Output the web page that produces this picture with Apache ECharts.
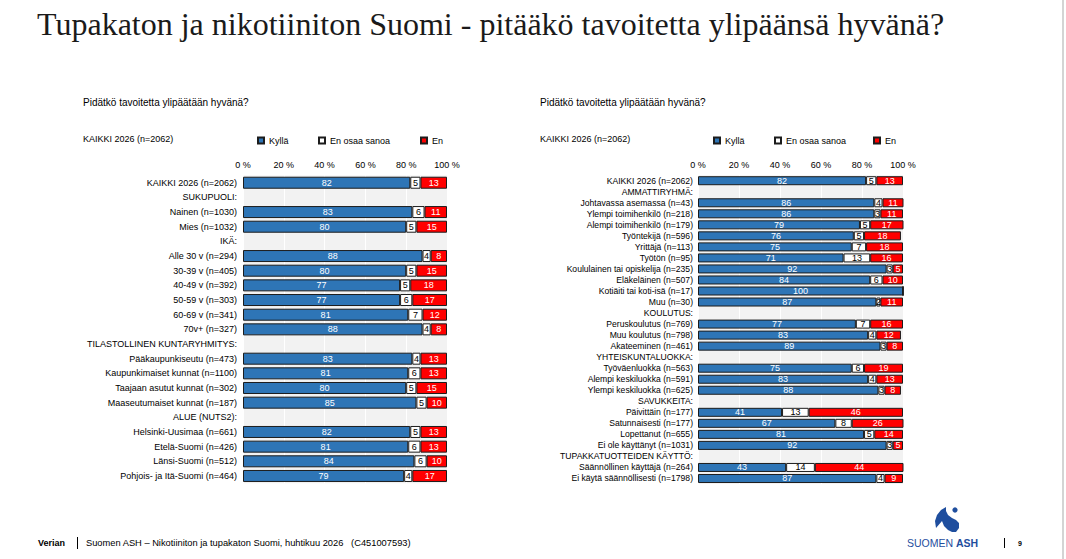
<!DOCTYPE html>
<html>
<head>
<meta charset="utf-8">
<script src="https://cdn.jsdelivr.net/npm/echarts@6/dist/echarts.min.js"></script>
<style>
html,body{margin:0;padding:0;background:#fff;}
#c{width:1066px;height:559px;}
</style>
</head>
<body>
<div id="c"></div>
<script>
// ---------- DATA ----------
const seriesNames = ['Kyllä', 'En osaa sanoa', 'En'];
const tickValues = [0, 20, 40, 60, 80, 100];

const leftCategories = [
  'KAIKKI 2026 (n=2062)', 'SUKUPUOLI:', 'Nainen (n=1030)', 'Mies (n=1032)', 'IKÄ:',
  'Alle 30 v (n=294)', '30-39 v (n=405)', '40-49 v (n=392)', '50-59 v (n=303)',
  '60-69 v (n=341)', '70v+ (n=327)', 'TILASTOLLINEN KUNTARYHMITYS:',
  'Pääkaupunkiseutu (n=473)', 'Kaupunkimaiset kunnat (n=1100)', 'Taajaan asutut kunnat (n=302)',
  'Maaseutumaiset kunnat (n=187)', 'ALUE (NUTS2):', 'Helsinki-Uusimaa (n=661)',
  'Etelä-Suomi (n=426)', 'Länsi-Suomi (n=512)', 'Pohjois- ja Itä-Suomi (n=464)'
];
const leftKylla = [82, null, 83, 80, null, 88, 80, 77, 77, 81, 88, null, 83, 81, 80, 85, null, 82, 81, 84, 79];
const leftEos   = [5, null, 6, 5, null, 4, 5, 5, 6, 7, 4, null, 4, 6, 5, 5, null, 5, 6, 6, 4];
const leftEn    = [13, null, 11, 15, null, 8, 15, 18, 17, 12, 8, null, 13, 13, 15, 10, null, 13, 13, 10, 17];

const rightCategories = [
  'KAIKKI 2026 (n=2062)', 'AMMATTIRYHMÄ:', 'Johtavassa asemassa (n=43)', 'Ylempi toimihenkilö (n=218)',
  'Alempi toimihenkilö (n=179)', 'Työntekijä (n=596)', 'Yrittäjä (n=113)', 'Työtön (n=95)',
  'Koululainen tai opiskelija (n=235)', 'Eläkeläinen (n=507)', 'Kotiäiti tai koti-isä (n=17)',
  'Muu (n=30)', 'KOULUTUS:', 'Peruskoulutus (n=769)', 'Muu koulutus (n=798)', 'Akateeminen (n=461)',
  'YHTEISKUNTALUOKKA:', 'Työväenluokka (n=563)', 'Alempi keskiluokka (n=591)', 'Ylempi keskiluokka (n=625)',
  'SAVUKKEITA:', 'Päivittäin (n=177)', 'Satunnaisesti (n=177)', 'Lopettanut (n=655)',
  'Ei ole käyttänyt (n=1031)', 'TUPAKKATUOTTEIDEN KÄYTTÖ:', 'Säännöllinen käyttäjä (n=264)',
  'Ei käytä säännöllisesti (n=1798)'
];
const rightKylla = [82, null, 86, 86, 79, 76, 75, 71, 92, 84, 100, 87, null, 77, 83, 89, null, 75, 83, 88, null, 41, 67, 81, 92, null, 43, 87];
const rightEos   = [5, null, 4, 3, 5, 5, 7, 13, 3, 6, 0, 2, null, 7, 4, 3, null, 6, 4, 3, null, 13, 8, 5, 3, null, 14, 4];
const rightEn    = [13, null, 11, 11, 17, 18, 18, 16, 5, 10, 0, 11, null, 16, 12, 8, null, 19, 13, 8, null, 46, 26, 14, 5, null, 44, 9];

// ---------- STYLE ----------
const FONT = '"Liberation Sans", Arial, sans-serif';
const colors = ['#2e75b6', '#ffffff', '#ff0000'];
const labelColors = ['#ffffff', '#000000', '#ffffff'];

const chart = echarts.init(document.getElementById('c'), null, {renderer: 'svg'});

function makeGrid(left, top, width, height) {
  return {left: left, top: top, width: width, height: height, show: true,
          backgroundColor: '#f2f2f2', borderWidth: 0, containLabel: false};
}
function makeX(idx) {
  return {type: 'value', gridIndex: idx, position: 'top', min: 0, max: 100, interval: 20,
    axisLine: {show: false}, axisTick: {show: false},
    axisLabel: {formatter: v => tickValues.includes(v) ? v + ' %' : '', fontSize: 9, color: '#000', fontFamily: FONT, margin: 6},
    splitLine: {show: true, lineStyle: {color: '#ffffff', width: 1}}};
}
function makeY(idx, cats, fs, margin) {
  return {type: 'category', gridIndex: idx, data: cats, inverse: true,
    axisLine: {show: false}, axisTick: {show: false},
    axisLabel: {fontSize: fs, color: '#000', fontFamily: FONT, margin: margin, interval: 0}};
}
function makeSeries(idx, name, data, ci, barWidth, stack) {
  return {type: 'bar', name: name, xAxisIndex: idx, yAxisIndex: idx, stack: stack,
    data: data, barWidth: barWidth,
    itemStyle: {color: colors[ci], borderColor: '#1c1c1c', borderWidth: 1},
    label: {show: true, position: 'inside', fontSize: 9, fontFamily: FONT, color: labelColors[ci],
      formatter: p => (p.value == null || p.value === 0) ? '' : String(p.value)},
    emphasis: {disabled: true}, animation: false};
}
function makeLegend(name, left, top) {
  return {data: [name], left: left, top: top, icon: 'rect', itemWidth: 6, itemHeight: 6,
    itemGap: 0, padding: 0, textStyle: {fontSize: 9, color: '#000', fontFamily: FONT},
    selectedMode: false};
}
function txt(x, y, text, font, fill) {
  return {type: 'text', x: x, y: y, style: {text: text, font: font, fill: fill, textVerticalAlign: 'middle', verticalAlign: 'middle'}};
}

const logoPoints = [[946,507],[941,510],[937,515],[935,521],[936,528],[942,521],[944,526],[948,530],[952,532],[956,532],[959,528],[959,523],[956,520],[952,518],[948,515],[946,511]];

const option = {
  animation: false,
  backgroundColor: '#ffffff',
  grid: [makeGrid(243, 175.4, 204, 307.9), makeGrid(698, 175.2, 205, 308.8)],
  xAxis: [makeX(0), makeX(1)],
  yAxis: [makeY(0, leftCategories, 9, 6), makeY(1, rightCategories, 8.6, 5)],
  legend: [
    makeLegend('Kyllä', 257, 136), makeLegend('En osaa sanoa', 318, 136), makeLegend('En', 420, 136),
    makeLegend('Kyllä', 713, 136), makeLegend('En osaa sanoa', 774, 136), makeLegend('En', 873, 136)
  ],
  series: [
    makeSeries(0, seriesNames[0], leftKylla, 0, 12, 'L'),
    makeSeries(0, seriesNames[1], leftEos, 1, 12, 'L'),
    makeSeries(0, seriesNames[2], leftEn, 2, 12, 'L'),
    makeSeries(1, seriesNames[0], rightKylla, 0, 9, 'R'),
    makeSeries(1, seriesNames[1], rightEos, 1, 9, 'R'),
    makeSeries(1, seriesNames[2], rightEn, 2, 9, 'R')
  ],
  graphic: [
    txt(37, 24, 'Tupakaton ja nikotiiniton Suomi - pitääkö tavoitetta ylipäänsä hyvänä?', '32px "Liberation Serif", "DejaVu Serif", serif', '#1a1a1a'),
    txt(83, 102, 'Pidätkö tavoitetta ylipäätään hyvänä?', '10px ' + FONT, '#000'),
    txt(83, 139, 'KAIKKI 2026 (n=2062)', '9px ' + FONT, '#000'),
    txt(540, 102, 'Pidätkö tavoitetta ylipäätään hyvänä?', '10px ' + FONT, '#000'),
    txt(540, 139, 'KAIKKI 2026 (n=2062)', '9px ' + FONT, '#000'),
    // footer
    txt(38, 543, 'Verian', 'bold 9px ' + FONT, '#000'),
    {type: 'line', shape: {x1: 77.5, y1: 537, x2: 77.5, y2: 549}, style: {stroke: '#000', lineWidth: 1}},
    txt(86, 543, 'Suomen ASH – Nikotiiniton ja tupakaton Suomi, huhtikuu 2026   (C451007593)', '9.3px ' + FONT, '#000'),
    // logo
    {type: 'circle', shape: {cx: 955, cy: 510, r: 2.6}, style: {fill: '#1f4e9e'}},
    {type: 'polygon', shape: {points: logoPoints}, style: {fill: '#1f4e9e'}},
    txt(907, 543, 'SUOMEN', '10.5px ' + FONT, '#1f4e9e'),
    txt(956, 543, 'ASH', 'bold 10.5px ' + FONT, '#1f4e9e'),
    {type: 'line', shape: {x1: 1004.5, y1: 538, x2: 1004.5, y2: 548}, style: {stroke: '#000', lineWidth: 1}},
    txt(1018, 543, '9', 'bold 7px ' + FONT, '#000'),
    // right border
    {type: 'rect', shape: {x: 1062, y: 0, width: 2, height: 559}, style: {fill: '#d4d4d4'}}
  ]
};
chart.setOption(option);
</script>
</body>
</html>
